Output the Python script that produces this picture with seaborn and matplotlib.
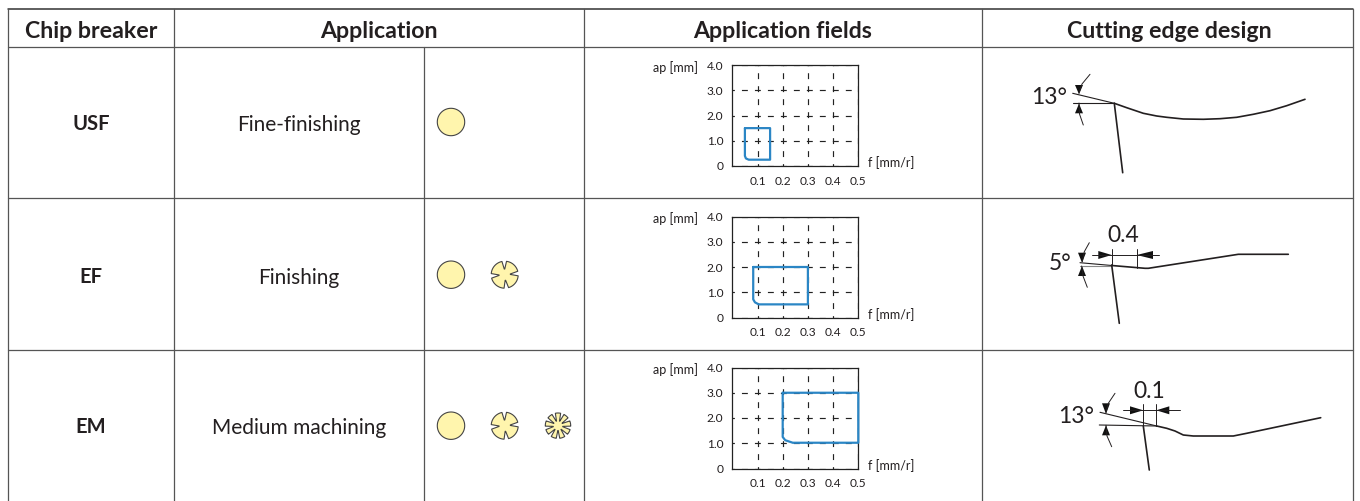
import numpy as np
import matplotlib
matplotlib.use("Agg")
import matplotlib.pyplot as plt
import seaborn as sns

# --- Data ---
chip_breakers = ["USF", "EF", "EM"]
applications = ["Fine-finishing", "Finishing", "Medium machining"]
headers = ["Chip breaker", "Application", "Application fields", "Cutting edge design"]

f_ticks = [0.1, 0.2, 0.3, 0.4, 0.5]
f_labels = ["0.1", "0.2", "0.3", "0.4", "0.5"]
ap_ticks = [0, 1, 2, 3, 4]
ap_labels = ["0", "1.0", "2.0", "3.0", "4.0"]

usf_f = [0.05, 0.05, 0.054, 0.065, 0.15, 0.15, 0.05]
usf_ap = [1.5, 0.4, 0.3, 0.25, 0.25, 1.5, 1.5]
ef_f = [0.083, 0.083, 0.09, 0.105, 0.3, 0.3, 0.083]
ef_ap = [2.0, 0.72, 0.6, 0.52, 0.52, 2.0, 2.0]
em_f = [0.2, 0.2, 0.21, 0.24, 0.5, 0.5, 0.2]
em_ap = [3.0, 1.25, 1.12, 1.02, 1.02, 3.0, 3.0]

# Cutting edge drawings, traced in pixels of the original image
usf_edge_x = [1114.3, 1126.7, 1143.3, 1156.7, 1166.7, 1183.3, 1203.3, 1220, 1236.7, 1253.3, 1270, 1286.7, 1305]
usf_edge_y = [103.3, 107.7, 113.3, 116, 117.3, 119, 119.3, 118.7, 117.3, 114.3, 110.7, 105.7, 99.3]
ef_edge_x = [1111.7, 1145, 1148.3, 1238.3, 1288.3]
ef_edge_y = [265.5, 268.3, 268.3, 254.3, 254.3]
em_edge_x = [1156.7, 1166.7, 1175, 1183.3, 1193.3, 1233.3, 1246.7, 1320.7]
em_edge_y = [426, 428.3, 431, 435, 436, 436, 433.3, 417.7]

# --- Layout ---
W, H = 1360, 501
GRID_COLOR = "#555555"
TEXT_COLOR = "#231f20"
BLUE = "#2b86c5"
YELLOW = "#fff5ad"
COL_X = [8, 174, 424, 584, 982, 1353]
ROW_Y = [8.5, 47, 198, 350]
PLOT_TOPS = [65, 216.5, 367.5]
PLOT_LEFT, PLOT_W, PLOT_H = 732.3, 126, 101

sns.set_theme(style="white")
plt.rcParams["font.family"] = ["Lato", "DejaVu Sans"]


def draw_line(ax, xs, ys, color="#231f20", lw=1.0, **kwargs):
    sns.lineplot(x=xs, y=ys, ax=ax, color=color, linewidth=lw, sort=False,
                 estimator=None, errorbar=None, **kwargs)


def draw_table(ax):
    """Grid lines and the plain text cells."""
    draw_line(ax, [8, 1353], [ROW_Y[0], ROW_Y[0]], color="#333333", lw=1.1)
    for y in ROW_Y[1:]:
        draw_line(ax, [8, 1353], [y, y], color=GRID_COLOR, lw=0.9)
    for x in COL_X:
        top = 47 if x == 424 else ROW_Y[0]
        draw_line(ax, [x, x], [top, 501], color=GRID_COLOR, lw=0.9)

    for name, xc in zip(headers, [91, 379, 783, 1169]):
        ax.text(xc, 31, name, ha="center", va="center", fontsize=16.7,
                fontweight="bold", color=TEXT_COLOR)
    for name, app, yc in zip(chip_breakers, applications, [124, 277, 427]):
        ax.text(91, yc, name, ha="center", va="center", fontsize=14.5,
                fontweight="bold", color=TEXT_COLOR)
        ax.text(299, yc + 1, app, ha="center", va="center", fontsize=15,
                color=TEXT_COLOR)


def draw_chip(ax, xc, yc, r, notch_angles=(), depth=0.5, half_width=0.1):
    """Yellow disc, with radial slots for the broken chip icons."""
    if not notch_angles:
        theta = np.linspace(0, 2 * np.pi, 90)
        px, py = r * np.cos(theta), r * np.sin(theta)
    else:
        px, py = [], []
        n = len(notch_angles)
        for i, a in enumerate(notch_angles):
            a = np.deg2rad(a)
            nxt = np.deg2rad(notch_angles[(i + 1) % n]) + (2 * np.pi if i == n - 1 else 0)
            inner = half_width * 0.25
            px.extend([r * depth * np.cos(a - inner), r * depth * np.cos(a + inner)])
            py.extend([r * depth * np.sin(a - inner), r * depth * np.sin(a + inner)])
            theta = np.linspace(a + half_width, nxt - half_width, 16)
            px.extend(r * np.cos(theta))
            py.extend(r * np.sin(theta))
    ax.fill(xc + np.array(px), yc + np.array(py), facecolor=YELLOW,
            edgecolor="#444444", linewidth=0.8, joinstyle="round")


def draw_field_plot(fig, top, f_vals, ap_vals):
    """One of the small ap / f application field charts."""
    ax = fig.add_axes([PLOT_LEFT / W, 1 - (top + PLOT_H) / H, PLOT_W / W, PLOT_H / H])
    ax.set_xlim(0, 0.5)
    ax.set_ylim(0, 4)
    ax.set_xticks(f_ticks, f_labels)
    ax.set_yticks(ap_ticks, ap_labels)
    ax.tick_params(length=0, labelsize=8.6, labelcolor=TEXT_COLOR)
    ax.tick_params(axis="x", pad=7)
    ax.tick_params(axis="y", pad=6.5)
    ax.grid(True, color="#222222", linewidth=0.85, linestyle=(3, (5, 6)))
    ax.set_axisbelow(True)
    for spine in ax.spines.values():
        spine.set_color("#222222")
        spine.set_linewidth(0.9)
    draw_line(ax, f_vals, ap_vals, color=BLUE, lw=1.6, clip_on=False, zorder=3)
    ax.set_xlim(0, 0.5)
    ax.set_ylim(0, 4)


def arrow_head(ax, tip, base, half_width=4):
    """Small filled dimension arrow, from base point to tip point."""
    (tx, ty), (bx, by) = tip, base
    if tx == bx:
        ax.fill([tx, bx - half_width, bx + half_width], [ty, by, by], color="#111111", lw=0)
    else:
        ax.fill([tx, bx, bx], [ty, by - half_width, by + half_width], color="#111111", lw=0)


def draw_angle_mark(ax, upper_arc, lower_arc, x, tip_up, base_up, tip_low, base_low):
    draw_line(ax, upper_arc[0], upper_arc[1], lw=0.7)
    draw_line(ax, lower_arc[0], lower_arc[1], lw=0.7)
    arrow_head(ax, (x, tip_up), (x, base_up))
    arrow_head(ax, (x, tip_low), (x, base_low))


def draw_edges(ax):
    # USF
    draw_line(ax, usf_edge_x, usf_edge_y, lw=1.2)
    draw_line(ax, [1114.3, 1122.7], [103.3, 172.7], lw=1.2)
    draw_line(ax, [1072.7, 1114.3], [93.3, 103.3], lw=0.8)
    draw_line(ax, [1072.7, 1114.3], [103.3, 103.3], lw=0.8)
    draw_angle_mark(ax, ([1090, 1082, 1079], [74.3, 84, 93]),
                    ([1079, 1079.5, 1083.3], [103, 114, 125]),
                    1079, 94.3, 85, 103.6, 113.3)
    ax.text(1049, 97, "13°", ha="center", va="center", fontsize=16.5, color=TEXT_COLOR)

    # EF
    draw_line(ax, ef_edge_x, ef_edge_y, lw=1.2)
    draw_line(ax, [1080, 1111.7], [262.7, 265.5], lw=0.8)
    draw_line(ax, [1080, 1111.7], [265.7, 265.7], color="#888888", lw=0.8)
    draw_line(ax, [1111.7, 1119.3], [265, 323.3], lw=1.2)
    draw_line(ax, [1111.7, 1111.7], [249.3, 265], lw=0.7)
    draw_line(ax, [1136.7, 1136.7], [249.3, 267.7], lw=0.7)
    draw_line(ax, [1092.3, 1159.3], [255, 255], lw=0.7)
    arrow_head(ax, (1111.7, 255), (1098.3, 255))
    arrow_head(ax, (1136.7, 255), (1153, 255))
    draw_angle_mark(ax, ([1089.3, 1084.3, 1082.3], [242.7, 251.7, 261.7]),
                    ([1081.7, 1083, 1087.3], [266, 276, 287.3]),
                    1082, 262.7, 252.7, 266, 276)
    ax.text(1060, 263, "5°", ha="center", va="center", fontsize=16.5, color=TEXT_COLOR)
    ax.text(1123, 235, "0.4", ha="center", va="center", fontsize=16.5, color=TEXT_COLOR)

    # EM
    draw_line(ax, em_edge_x, em_edge_y, lw=1.2)
    draw_line(ax, [1100, 1156.7], [412.3, 426], lw=0.8)
    draw_line(ax, [1099.3, 1156.7], [425, 426], lw=0.8)
    draw_line(ax, [1143.3, 1149.3], [426, 470], lw=1.2)
    draw_line(ax, [1143.3, 1143.3], [404.3, 426], lw=0.7)
    draw_line(ax, [1156.3, 1156.3], [404.3, 426], lw=0.7)
    draw_line(ax, [1123.3, 1180], [410.3, 410.3], lw=0.7)
    arrow_head(ax, (1143.3, 410.3), (1130, 410.3))
    arrow_head(ax, (1156.3, 410.3), (1169.3, 410.3))
    draw_angle_mark(ax, ([1115, 1108.3, 1106], [393.3, 403.3, 412.3]),
                    ([1106, 1107, 1111.7], [425.3, 436, 446.7]),
                    1106, 414, 403.3, 425.3, 435.3)
    ax.text(1075.7, 416.7, "13°", ha="center", va="center", fontsize=16.5, color=TEXT_COLOR)
    ax.text(1149, 391.7, "0.1", ha="center", va="center", fontsize=16.5, color=TEXT_COLOR)


if __name__ == "__main__":
    fig = plt.figure(figsize=(W / 100, H / 100), dpi=100, facecolor="white")

    # Full size layer in image pixels for the table and the drawings
    canvas = fig.add_axes([0, 0, 1, 1])
    draw_table(canvas)

    draw_chip(canvas, 451, 122, 13.7)
    draw_chip(canvas, 451, 274.7, 13.7)
    draw_chip(canvas, 451, 425.7, 13.7)
    four_notches = (-5, 83, 175, 268)
    draw_chip(canvas, 504.7, 274.7, 13.5, four_notches, depth=0.42, half_width=0.17)
    draw_chip(canvas, 504.7, 425.7, 13.5, four_notches, depth=0.42, half_width=0.17)
    draw_chip(canvas, 558, 425.7, 12.7, (10, 50, 90, 130, 170, 210, 250, 290, 330),
              depth=0.38, half_width=0.14)

    draw_edges(canvas)

    for top in PLOT_TOPS:
        canvas.text(698, top + 2.5, "ap [mm]", ha="right", va="center", fontsize=9, color=TEXT_COLOR)
        canvas.text(868.5, top + PLOT_H - 3, "f [mm/r]", ha="left", va="center", fontsize=9, color=TEXT_COLOR)

    canvas.set_xlim(0, W)
    canvas.set_ylim(H, 0)
    canvas.axis("off")

    draw_field_plot(fig, PLOT_TOPS[0], usf_f, usf_ap)
    draw_field_plot(fig, PLOT_TOPS[1], ef_f, ef_ap)
    draw_field_plot(fig, PLOT_TOPS[2], em_f, em_ap)

    fig.savefig("out.png", dpi=100)
